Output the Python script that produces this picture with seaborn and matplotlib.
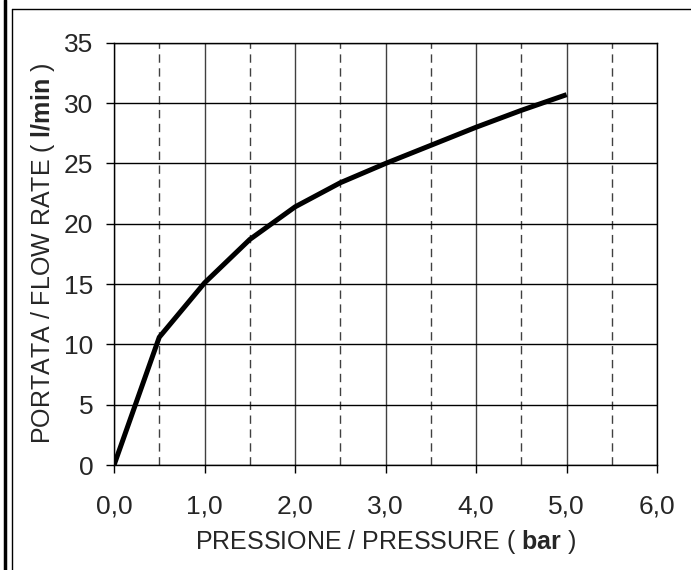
import numpy as np
import pandas as pd
import matplotlib.pyplot as plt
import seaborn as sns
from matplotlib.ticker import MultipleLocator
from matplotlib.lines import Line2D

# data
pressure = [0.0, 0.5, 1.0, 1.5, 2.0, 2.5, 3.0, 3.5, 4.0, 4.5, 5.0]
flow = [0.0, 10.6, 15.1, 18.7, 21.4, 23.4, 25.0, 26.5, 28.0, 29.4, 30.7]
x_ticks = [0, 1, 2, 3, 4, 5, 6]
x_labels = ['0,0', '1,0', '2,0', '3,0', '4,0', '5,0', '6,0']
y_ticks = [0, 5, 10, 15, 20, 25, 30, 35]

df = pd.DataFrame({'pressure': pressure, 'flow': flow})

sns.set_style('white')
plt.rcParams['font.family'] = ['Liberation Sans', 'DejaVu Sans']
plt.rcParams['mathtext.fontset'] = 'custom'
plt.rcParams['mathtext.rm'] = 'Liberation Sans'
plt.rcParams['mathtext.bf'] = 'Liberation Sans:bold'

fig = plt.figure(figsize=(6.91, 5.70), dpi=100)
ax = fig.add_axes([0.165, 0.184, 0.786, 0.741])

# grid first so the curve sits on top
ax.set_axisbelow(True)
sns.lineplot(data=df, x='pressure', y='flow', color='black', linewidth=3.6,
             solid_capstyle='butt', ax=ax)

ax.set_xlim(0, 6)
ax.set_ylim(0, 35)
ax.set_xticks(x_ticks)
ax.set_xticklabels(x_labels)
ax.set_yticks(y_ticks)
ax.xaxis.set_minor_locator(MultipleLocator(0.5))

ax.grid(True, which='major', axis='y', color='black', linewidth=1.0)
ax.grid(True, which='major', axis='x', color='#404040', linewidth=1.0)
ax.grid(True, which='minor', axis='x', color='#404040', linewidth=1.0,
        linestyle=(0, (6, 4)))

ax.tick_params(which='major', direction='out', length=6, width=1, color='black',
               labelsize=19, bottom=True, left=True)
ax.tick_params(axis='x', pad=15)
ax.tick_params(axis='y', pad=9)
ax.tick_params(which='minor', length=0)

for s in ax.spines.values():
    s.set_color('black')
    s.set_linewidth(1.0)

ax.set_xlabel(r'PRESSIONE / PRESSURE ( $\mathbf{bar}$ )', fontsize=18, labelpad=7)
ax.set_ylabel(r'PORTATA / FLOW RATE ( $\mathbf{l/min}$ )', fontsize=18, labelpad=5)

# outer frame of the original sheet
fig.add_artist(Line2D([5 / 691, 5 / 691], [0, 1], color='black', linewidth=2.5,
                      transform=fig.transFigure))
fig.add_artist(Line2D([11.5 / 691, 11.5 / 691], [0, 1 - 9 / 570], color='black',
                      linewidth=1.0, transform=fig.transFigure))
fig.add_artist(Line2D([11.5 / 691, 1], [1 - 9 / 570, 1 - 9 / 570], color='black',
                      linewidth=1.0, transform=fig.transFigure))

plt.savefig('out.png', dpi=100)
